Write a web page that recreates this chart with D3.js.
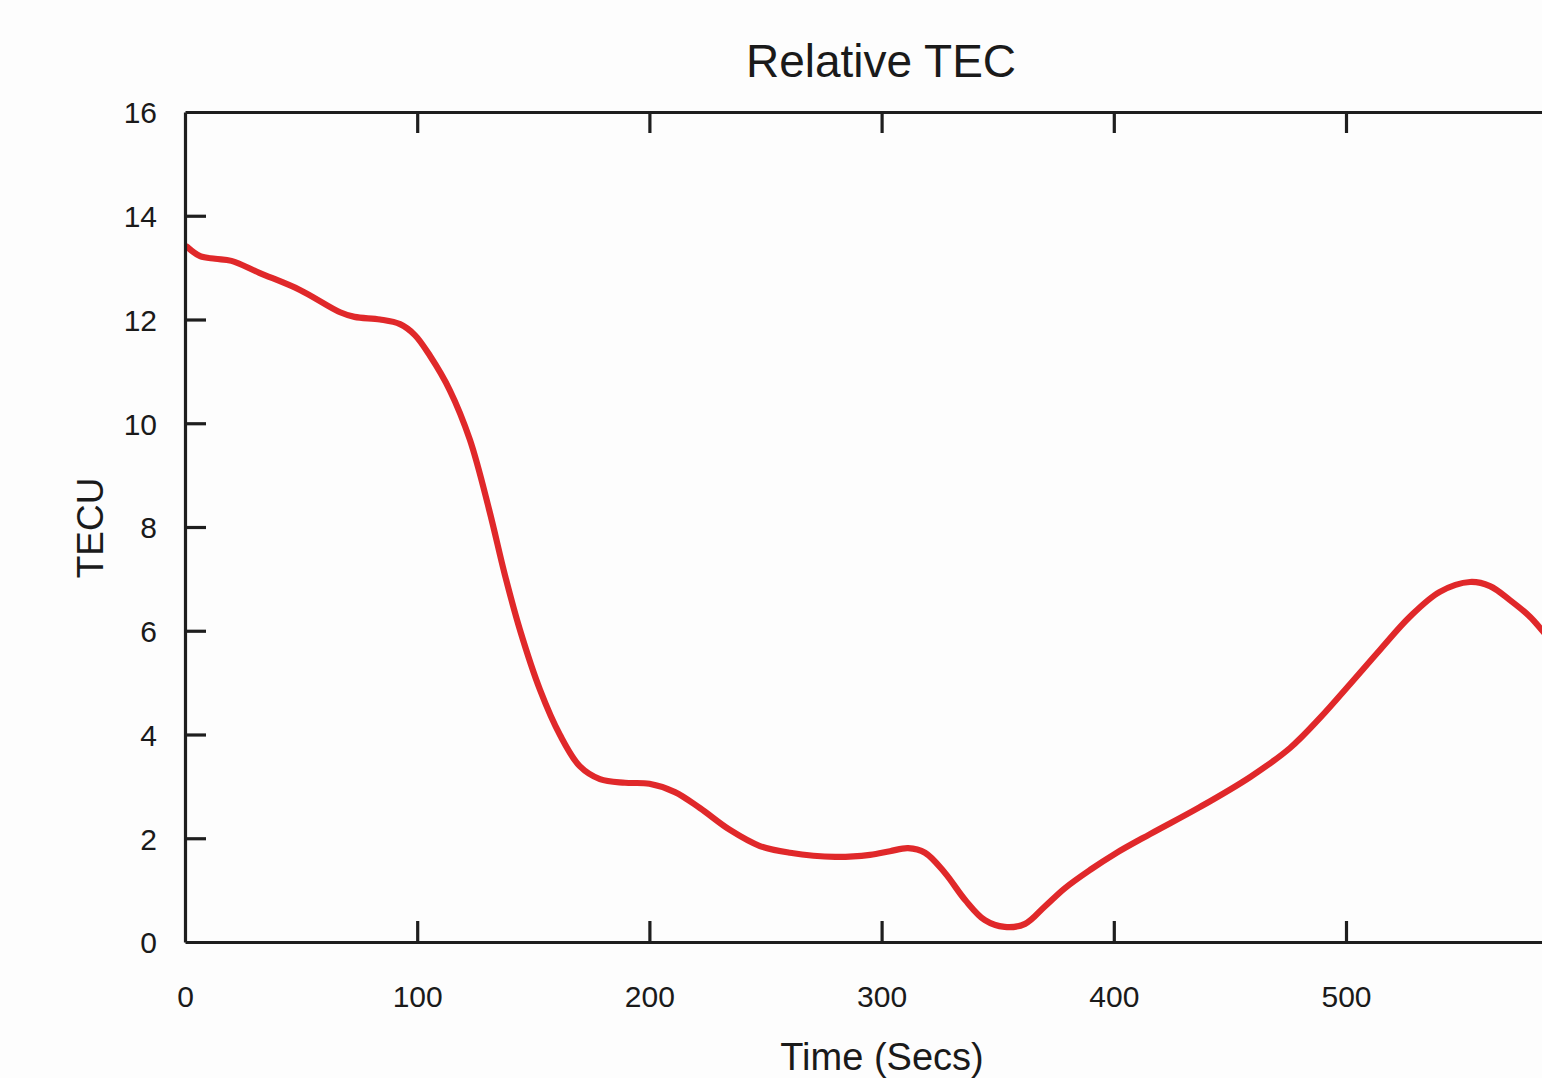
<!DOCTYPE html>
<html><head><meta charset="utf-8">
<script src="https://cdn.jsdelivr.net/npm/d3@7"></script>
<style>html,body{margin:0;padding:0;background:#fdfdfd;overflow:hidden}svg{display:block}</style>
</head><body>
<script>
const timeSecs = [0.9,6.5,13,20,32,49.5,66.8,73,84,92.6,99,105.5,114,122.7,131,137.8,144.3,152.9,161.5,170,178.7,189.5,200,211,221.8,234.7,247.6,260.6,280,295,303.6,311.4,318.7,327.3,336,344.5,353,361.8,370.4,379,389.8,400.5,415.6,437,458.7,475.9,488.8,501.7,514.6,527.5,540.4,553.4,562,570.6,579.2,584.4,592];
const tecu = [13.4,13.22,13.17,13.13,12.9,12.57,12.14,12.05,12.0,11.91,11.7,11.3,10.64,9.68,8.33,7.07,6.01,4.86,3.99,3.39,3.14,3.07,3.05,2.89,2.58,2.16,1.85,1.72,1.64,1.68,1.75,1.81,1.72,1.33,0.81,0.42,0.29,0.35,0.69,1.04,1.39,1.70,2.08,2.60,3.18,3.74,4.32,4.97,5.63,6.27,6.75,6.94,6.86,6.59,6.27,6.01,5.6];
const xTicks = [0,100,200,300,400,500];
const yTicks = [0,2,4,6,8,10,12,14,16];
const titleText = "Relative TEC";
const xLabel = "Time (Secs)";
const yLabel = "TECU";

const W = 1542, H = 1078;
const L = 185, T = 112, B = 942, R = 185 + 6 * 232.2;
const x = d3.scaleLinear().domain([0, 600]).range([L, R]);
const y = d3.scaleLinear().domain([0, 16]).range([B, T]);

const svg = d3.select("body").append("svg").attr("width", W).attr("height", H)
  .style("font-family", "'Liberation Sans', Arial, sans-serif");
svg.append("rect").attr("width", W).attr("height", H).attr("fill", "#fdfdfd");

svg.append("clipPath").attr("id", "clip").append("rect")
  .attr("x", L).attr("y", T).attr("width", R - L).attr("height", B - T);

const data = timeSecs.map((t, i) => ({t, v: tecu[i]}));
svg.append("path").datum(data)
  .attr("clip-path", "url(#clip)")
  .attr("fill", "none").attr("stroke", "#e0282a").attr("stroke-width", 6.2)
  .attr("stroke-linejoin", "round").attr("stroke-linecap", "round")
  .attr("d", d3.line().x(d => x(d.t)).y(d => y(d.v)).curve(d3.curveCatmullRom.alpha(0.5)));

const axisColor = "#1e1e1e";
const tl = 21;
const gB = svg.append("g").attr("transform", `translate(0,${B})`)
  .call(d3.axisBottom(x).tickValues(xTicks).tickSizeInner(-tl).tickSizeOuter(0).tickPadding(tl + 23).tickFormat(d3.format("d")));
const gT = svg.append("g").attr("transform", `translate(0,${T})`)
  .call(d3.axisTop(x).tickValues(xTicks).tickSizeInner(-tl).tickSizeOuter(0).tickFormat(""));
const gL = svg.append("g").attr("transform", `translate(${L},0)`)
  .call(d3.axisLeft(y).tickValues(yTicks).tickSizeInner(-tl).tickSizeOuter(0).tickPadding(28).tickFormat(d3.format("d")));
const gR = svg.append("g").attr("transform", `translate(${R},0)`)
  .call(d3.axisRight(y).tickValues(yTicks).tickSizeInner(-tl).tickSizeOuter(0).tickFormat(""));

[gB, gT, gL, gR].forEach(g => {
  g.select(".domain").attr("stroke", axisColor).attr("stroke-width", 3.2);
  g.selectAll(".tick line").attr("stroke", axisColor).attr("stroke-width", 3.2);
  g.selectAll(".tick text").attr("fill", "#1a1a1a").style("font-size", "30px").style("font-family", "'Liberation Sans', Arial, sans-serif");
});
gB.selectAll(".tick").filter(d => d === 0).select("line").remove();
gT.selectAll(".tick").filter(d => d === 0).select("line").remove();
gL.selectAll(".tick").filter(d => d === 0 || d === 16).select("line").remove();
gL.selectAll(".tick text").attr("dy", "0.36em");

svg.append("text").attr("x", 881).attr("y", 77).attr("text-anchor", "middle")
  .style("font-size", "46px").attr("fill", "#1a1a1a").text(titleText);
svg.append("text").attr("x", 882).attr("y", 1070).attr("text-anchor", "middle")
  .style("font-size", "38px").attr("fill", "#1a1a1a").text(xLabel);
svg.append("text").attr("transform", "translate(103,528) rotate(-90)").attr("text-anchor", "middle")
  .style("font-size", "37px").attr("fill", "#1a1a1a").text(yLabel);
</script>
</body></html>
